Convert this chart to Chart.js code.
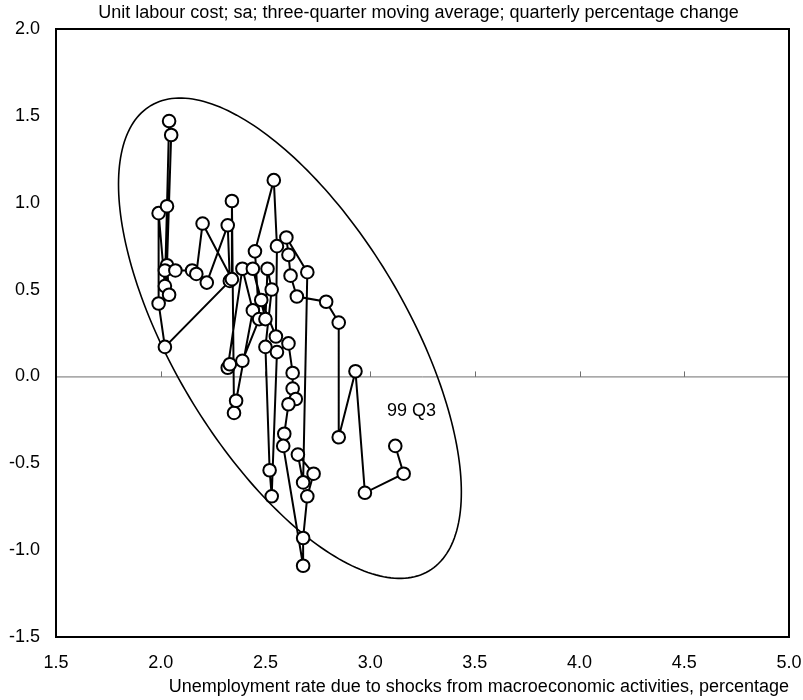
<!DOCTYPE html>
<html><head><meta charset="utf-8">
<script src="https://cdn.jsdelivr.net/npm/chart.js@4/dist/chart.umd.min.js"></script>
<style>html,body{margin:0;padding:0;background:#fff}#wrap{width:803px;height:700px;position:relative}</style>
</head><body><div id="wrap"><canvas id="c" width="803" height="700"></canvas></div>
<script>
// Unemployment rate due to shocks from macroeconomic activities (x), in time order
const unemployment = [2.22, 2.32, 2.33, 2.02, 1.99, 1.99, 2.02, 2.03, 2.04, 2.05,
  2.03, 2.04, 2.02, 2.07, 2.15, 2.17, 2.20, 2.34, 2.34, 2.35,
  2.36, 2.44, 2.39, 2.32, 2.33, 2.39, 2.47, 2.45, 2.54, 2.555,
  2.55, 2.48, 2.44, 2.50, 2.51, 2.53, 2.50, 2.52, 2.53, 2.555,
  2.61, 2.63, 2.63, 2.645, 2.61, 2.59, 2.585, 2.68, 2.68, 2.70,
  2.73, 2.655, 2.68, 2.70, 2.60, 2.61, 2.62, 2.65, 2.79, 2.85,
  2.85, 2.93, 2.975, 3.16, 3.12];
// Unit labour cost; three-quarter moving average; quarterly % change (y)
const labourCost = [0.54, 0.87, 0.55, 0.17, 0.42, 0.94, 0.52, 0.98, 1.47, 1.39,
  0.64, 0.47, 0.61, 0.61, 0.61, 0.59, 0.88, 0.56, 1.01, -0.21,
  -0.14, 0.38, 0.62, 0.05, 0.07, 0.09, 0.33, 0.72, 1.13, 0.75,
  0.23, 0.44, 0.62, 0.33, 0.62, 0.50, 0.17, -0.54, -0.69, 0.14,
  0.19, 0.02, -0.07, -0.13, -0.16, -0.33, -0.40, -1.09, -0.93, -0.69,
  -0.56, -0.45, -0.61, 0.60, 0.80, 0.70, 0.58, 0.46, 0.43, 0.31,
  -0.35, 0.03, -0.67, -0.56, -0.40];
const xTickValues = [1.5, 2.0, 2.5, 3.0, 3.5, 4.0, 4.5, 5.0];
const yTickValues = [-1.5, -1.0, -0.5, 0.0, 0.5, 1.0, 1.5, 2.0];
const titleText = 'Unit labour cost; sa; three-quarter moving average; quarterly percentage change';
const xAxisTitle = 'Unemployment rate due to shocks from macroeconomic activities, percentage';
const lastLabel = '99 Q3';
const lastLabelAt = [3.08, -0.20];
// ellipse (data units): centre, end of one semi-axis, end of the conjugate semi-axis
const ellipseCentre = [2.617, 0.22];
const ellipseMajorEnd = [3.28, -1.12];
const ellipseMinorEnd = [2.137, -0.12];

const FONT = "'Liberation Sans', Arial, sans-serif";
const FS = 18;
const points = unemployment.map((x, i) => ({x: x, y: labourCost[i]}));

const decor = {
  id: 'decor',
  beforeDatasetsDraw(chart) {
    const {ctx, chartArea: a, scales: {x, y}} = chart;
    ctx.save();
    const y0 = y.getPixelForValue(0);
    ctx.strokeStyle = '#6e6e6e';
    ctx.lineWidth = 1;
    ctx.beginPath();
    ctx.moveTo(a.left, y0 + 0.5); ctx.lineTo(a.right, y0 + 0.5);
    xTickValues.forEach(v => {
      const px = Math.round(x.getPixelForValue(v)) + 0.5;
      ctx.moveTo(px, y0 + 0.5); ctx.lineTo(px, y0 - 5);
    });
    ctx.stroke();
    const cx = x.getPixelForValue(ellipseCentre[0]), cy = y.getPixelForValue(ellipseCentre[1]);
    const ux = x.getPixelForValue(ellipseMajorEnd[0]) - cx, uy = y.getPixelForValue(ellipseMajorEnd[1]) - cy;
    const vx = x.getPixelForValue(ellipseMinorEnd[0]) - cx, vy = y.getPixelForValue(ellipseMinorEnd[1]) - cy;
    ctx.strokeStyle = '#000';
    ctx.lineWidth = 1.6;
    ctx.beginPath();
    const N = 240;
    for (let k = 0; k <= N; k++) {
      const t = k / N * Math.PI * 2;
      const px = cx + ux * Math.cos(t) + vx * Math.sin(t);
      const py = cy + uy * Math.cos(t) + vy * Math.sin(t);
      if (k === 0) ctx.moveTo(px, py); else ctx.lineTo(px, py);
    }
    ctx.closePath();
    ctx.stroke();
    ctx.restore();
  },
  afterDraw(chart) {
    const {ctx, chartArea: a, scales: {x, y}} = chart;
    ctx.save();
    ctx.strokeStyle = '#000';
    ctx.lineWidth = 2;
    ctx.strokeRect(a.left, a.top, a.right - a.left, a.bottom - a.top);
    ctx.fillStyle = '#000';
    ctx.font = FS + 'px ' + FONT;
    ctx.textBaseline = 'middle';
    ctx.textAlign = 'center';
    ctx.fillText(titleText, (a.left + a.right) / 2 - 4, 13);
    ctx.textAlign = 'right';
    ctx.fillText(xAxisTitle, a.right, 687);
    ctx.textAlign = 'left';
    ctx.fillText(lastLabel, x.getPixelForValue(lastLabelAt[0]), y.getPixelForValue(lastLabelAt[1]));
    ctx.restore();
  }
};

new Chart(document.getElementById('c'), {
  type: 'scatter',
  data: {datasets: [{
    data: points,
    showLine: true,
    borderColor: '#000',
    borderWidth: 2,
    pointRadius: 6.3,
    pointHoverRadius: 6.3,
    pointBackgroundColor: '#fff',
    pointBorderColor: '#000',
    pointBorderWidth: 2
  }]},
  options: {
    responsive: false,
    devicePixelRatio: 1,
    animation: false,
    layout: {padding: {top: 29, right: 14, left: 0, bottom: 0}},
    plugins: {legend: {display: false}, tooltip: {enabled: false}},
    scales: {
      x: {
        type: 'linear', min: 1.5, max: 5.0,
        afterBuildTicks: s => { s.ticks = xTickValues.map(v => ({value: v})); },
        afterFit: s => { s.height = 63; s.paddingLeft = 0; s.paddingRight = 0; },
        grid: {display: false, drawTicks: false},
        border: {display: false},
        ticks: {padding: 15, color: '#000', font: {size: FS, family: FONT}, maxRotation: 0,
          callback: v => Number(v).toFixed(1)}
      },
      y: {
        type: 'linear', min: -1.5, max: 2.0,
        afterBuildTicks: s => { s.ticks = yTickValues.map(v => ({value: v})); },
        afterFit: s => { s.width = 56; s.paddingTop = 0; s.paddingBottom = 0; },
        grid: {display: false, drawTicks: false},
        border: {display: false},
        ticks: {padding: 16, color: '#000', font: {size: FS, family: FONT},
          callback: v => Number(v).toFixed(1)}
      }
    }
  },
  plugins: [decor]
});
</script>
</body></html>
